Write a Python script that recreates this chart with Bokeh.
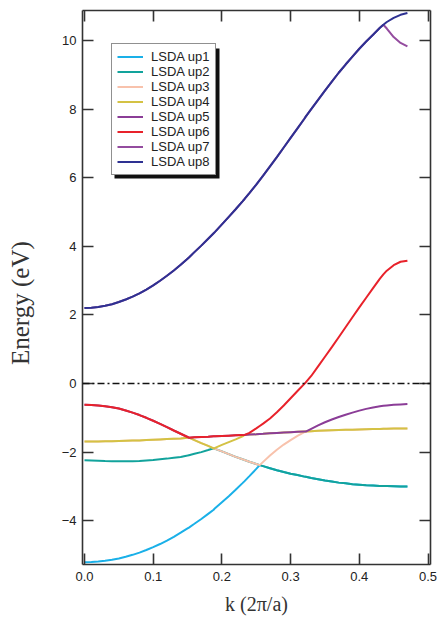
import math
from bokeh.plotting import figure
from bokeh.layouts import row
from bokeh.core.properties import value
from bokeh.models import (Range1d, LinearAxis, Span, Legend, LegendItem,
                          FixedTicker, PrintfTickFormatter, BoxAnnotation,
                          CustomLabelingPolicy)
from bokeh.embed import file_html
from bokeh.resources import INLINE

# k points along the path (units of 2*pi/a); extra points sit on band crossings
k = [0.00, 0.01, 0.02, 0.03, 0.04, 0.05, 0.06, 0.07, 0.08, 0.09, 0.10, 0.11,
     0.12, 0.13, 0.14, 0.15, 0.152, 0.16, 0.17, 0.18, 0.188, 0.19, 0.20, 0.21,
     0.22, 0.23, 0.233, 0.24, 0.25, 0.255, 0.26, 0.27, 0.28, 0.29, 0.30, 0.31,
     0.32, 0.322, 0.33, 0.34, 0.35, 0.36, 0.37, 0.38, 0.39, 0.40, 0.41, 0.42,
     0.43, 0.435, 0.44, 0.45, 0.46, 0.47]

# Lower d-like branches (eV).  branch_c and branch_d are each doubly degenerate.
branch_a = [-5.21, -5.205, -5.19, -5.17, -5.14, -5.10, -5.05, -4.995, -4.93, -4.855,
            -4.77, -4.68, -4.58, -4.47, -4.35, -4.225, -4.20, -4.09, -3.95, -3.80,
            -3.68, -3.635, -3.46, -3.285, -3.10, -2.905, -2.845, -2.70, -2.49, -2.38,
            -2.285, -2.10, -1.93, -1.78, -1.65, -1.53, -1.42, -1.40, -1.32, -1.22,
            -1.13, -1.05, -0.975, -0.91, -0.85, -0.79, -0.74, -0.70, -0.665, -0.65,
            -0.64, -0.62, -0.61, -0.60]
branch_b = [-2.24, -2.245, -2.25, -2.26, -2.265, -2.27, -2.27, -2.265, -2.26, -2.245,
            -2.23, -2.21, -2.19, -2.165, -2.14, -2.10, -2.09, -2.05, -2.00, -1.94,
            -1.89, -1.875, -1.79, -1.71, -1.63, -1.54, -1.50, -1.44, -1.31, -1.24,
            -1.17, -1.02, -0.84, -0.64, -0.43, -0.22, -0.01, 0.03, 0.22, 0.50,
            0.78, 1.06, 1.35, 1.64, 1.93, 2.22, 2.50, 2.78, 3.06, 3.18,
            3.29, 3.45, 3.55, 3.58]
branch_c = [-0.62, -0.625, -0.64, -0.66, -0.69, -0.73, -0.785, -0.85, -0.92, -1.00,
            -1.085, -1.175, -1.27, -1.37, -1.465, -1.56, -1.58, -1.65, -1.74, -1.82,
            -1.89, -1.905, -1.98, -2.06, -2.14, -2.21, -2.23, -2.28, -2.345, -2.38,
            -2.41, -2.47, -2.53, -2.58, -2.63, -2.67, -2.715, -2.72, -2.755, -2.79,
            -2.83, -2.86, -2.89, -2.91, -2.935, -2.95, -2.965, -2.975, -2.985, -2.99,
            -2.99, -2.995, -3.00, -3.00]
branch_d = [-1.69, -1.69, -1.69, -1.685, -1.68, -1.675, -1.67, -1.665, -1.66, -1.65,
            -1.64, -1.63, -1.62, -1.61, -1.60, -1.585, -1.58, -1.57, -1.56, -1.55,
            -1.54, -1.54, -1.53, -1.52, -1.51, -1.505, -1.50, -1.49, -1.48, -1.47,
            -1.465, -1.45, -1.44, -1.43, -1.42, -1.41, -1.40, -1.40, -1.39, -1.38,
            -1.37, -1.36, -1.355, -1.35, -1.345, -1.34, -1.335, -1.33, -1.325, -1.32,
            -1.32, -1.315, -1.31, -1.31]

# Upper pair of bands (eV), degenerate up to the split near the zone edge
up7 = [2.20, 2.21, 2.23, 2.265, 2.31, 2.375, 2.45, 2.535, 2.63, 2.74,
       2.86, 2.995, 3.14, 3.295, 3.46, 3.64, 3.675, 3.83, 4.02, 4.22,
       4.38, 4.42, 4.64, 4.86, 5.08, 5.31, 5.38, 5.55, 5.80, 5.93,
       6.06, 6.33, 6.60, 6.88, 7.16, 7.44, 7.72, 7.78, 8.00, 8.27,
       8.54, 8.80, 9.06, 9.30, 9.53, 9.76, 9.97, 10.17, 10.37, 10.46,
       10.35, 10.10, 9.93, 9.83]
up8 = [2.20, 2.21, 2.23, 2.265, 2.31, 2.375, 2.45, 2.535, 2.63, 2.74,
       2.86, 2.995, 3.14, 3.295, 3.46, 3.64, 3.675, 3.83, 4.02, 4.22,
       4.38, 4.42, 4.64, 4.86, 5.08, 5.31, 5.38, 5.55, 5.80, 5.93,
       6.06, 6.33, 6.60, 6.88, 7.16, 7.44, 7.72, 7.78, 8.00, 8.27,
       8.54, 8.80, 9.06, 9.30, 9.53, 9.76, 9.97, 10.17, 10.37, 10.46,
       10.54, 10.66, 10.75, 10.80]

labels = ["LSDA up1", "LSDA up2", "LSDA up3", "LSDA up4",
          "LSDA up5", "LSDA up6", "LSDA up7", "LSDA up8"]
colors = ["#1AB0E8", "#12A39C", "#F8C2AC", "#D4C244",
          "#8B3D97", "#E8222B", "#944C9F", "#2E3192"]

x_ticks = [0.0, 0.1, 0.2, 0.3, 0.4, 0.5]
y_ticks = [-4, -2, 0, 2, 4, 6, 8, 10]

# bands up1..up6 are the six lowest levels in ascending order at each k
lower = [sorted(vals) for vals in zip(branch_a, branch_b, branch_c, branch_c,
                                      branch_d, branch_d)]
up1, up2, up3, up4, up5, up6 = (list(col) for col in zip(*lower))

AXIS_COLOR = "#333333"
SANS = "Liberation Sans"
SERIF = "Liberation Serif"
HEIGHT = 621
LABEL_STRIP = 40

# narrow strip on the left that holds the vertical axis title
strip = figure(width=LABEL_STRIP, height=HEIGHT,
               x_range=Range1d(0, LABEL_STRIP), y_range=Range1d(0, HEIGHT),
               output_backend="svg", toolbar_location=None,
               x_axis_location=None, y_axis_location=None,
               min_border=0, min_border_left=0, min_border_right=0,
               min_border_top=0, min_border_bottom=0)
strip.outline_line_color = None
strip.grid.visible = False
strip.text(x=[20], y=[293], text=["Energy (eV)"], angle=math.pi / 2,
           text_font=value(SERIF), text_font_size="25px",
           text_color="#333333", text_align="center", text_baseline="middle")

p = figure(width=437 - LABEL_STRIP, height=HEIGHT,
           x_range=Range1d(-0.0029, 0.5036), y_range=Range1d(-5.277, 10.875),
           output_backend="svg", toolbar_location=None,
           x_axis_location=None, y_axis_location=None,
           min_border_left=82 - LABEL_STRIP, min_border_right=7,
           min_border_top=10, min_border_bottom=57)
p.outline_line_color = None
p.grid.visible = False
p.background_fill_color = "white"
p.border_fill_color = "white"

# mirror axes carry ticks only: drop every label
no_labels = CustomLabelingPolicy(code="""
    for (const i of Array.from(indices)) indices.unset(i)
    return indices
""")


def style_axis(ax, show_labels):
    ax.axis_line_color = AXIS_COLOR
    ax.axis_line_width = 1.6
    ax.major_tick_line_color = AXIS_COLOR
    ax.major_tick_line_width = 1.6
    ax.major_tick_in = 11
    ax.major_tick_out = 0
    ax.minor_tick_line_color = None
    if show_labels:
        ax.major_label_text_font = SANS
        ax.major_label_text_font_size = "13px"
        ax.major_label_text_color = "#222222"
    else:
        ax.major_label_policy = no_labels
        ax.major_label_text_font_size = "0px"
        ax.major_label_standoff = 0


bottom = LinearAxis(ticker=FixedTicker(ticks=x_ticks),
                    formatter=PrintfTickFormatter(format="%.1f"),
                    axis_label="k (2\u03c0/a)")
style_axis(bottom, True)
bottom.major_label_standoff = 7
bottom.axis_label_text_font = SERIF
bottom.axis_label_text_font_size = "20px"
bottom.axis_label_text_font_style = "normal"
bottom.axis_label_text_color = "#333333"
bottom.axis_label_standoff = 9
p.add_layout(bottom, "below")

left = LinearAxis(ticker=FixedTicker(ticks=y_ticks))
left.major_label_overrides = {v: str(v).replace("-", "\u2212") for v in y_ticks}
style_axis(left, True)
left.major_label_standoff = 6
p.add_layout(left, "left")

top = LinearAxis(ticker=FixedTicker(ticks=x_ticks))
style_axis(top, False)
p.add_layout(top, "above")

right = LinearAxis(ticker=FixedTicker(ticks=y_ticks))
style_axis(right, False)
p.add_layout(right, "right")

# Fermi level
p.add_layout(Span(location=0, dimension="width", line_color="#111111",
                  line_width=1.3, line_dash="7 3 2 3"))

bands = [up1, up2, up3, up4, up5, up6, up7, up8]
renderers = []
for band, col in zip(bands, colors):
    renderers.append(p.line(k, band, line_color=col, line_width=2))

# drop shadow behind the legend box
p.add_layout(BoxAnnotation(left=32, right=137, bottom=386, top=516,
                           left_units="screen", right_units="screen",
                           bottom_units="screen", top_units="screen",
                           fill_color="#111111", fill_alpha=1.0,
                           line_color=None))

legend = Legend(items=[LegendItem(label=lab, renderers=[r])
                       for lab, r in zip(labels, renderers)],
                location=(29, 389))
legend.border_line_color = "#222222"
legend.border_line_width = 1.3
legend.background_fill_color = "white"
legend.background_fill_alpha = 1.0
legend.label_text_font = SANS
legend.label_text_font_size = "13px"
legend.label_text_color = "#222222"
legend.glyph_width = 26
legend.glyph_height = 15
legend.label_height = 15
legend.label_standoff = 8
legend.spacing = 0
legend.padding = 5
legend.margin = 0
p.add_layout(legend, "center")

page = row(strip, p, spacing=0)
open("out.html", "w").write(file_html(page, INLINE))
